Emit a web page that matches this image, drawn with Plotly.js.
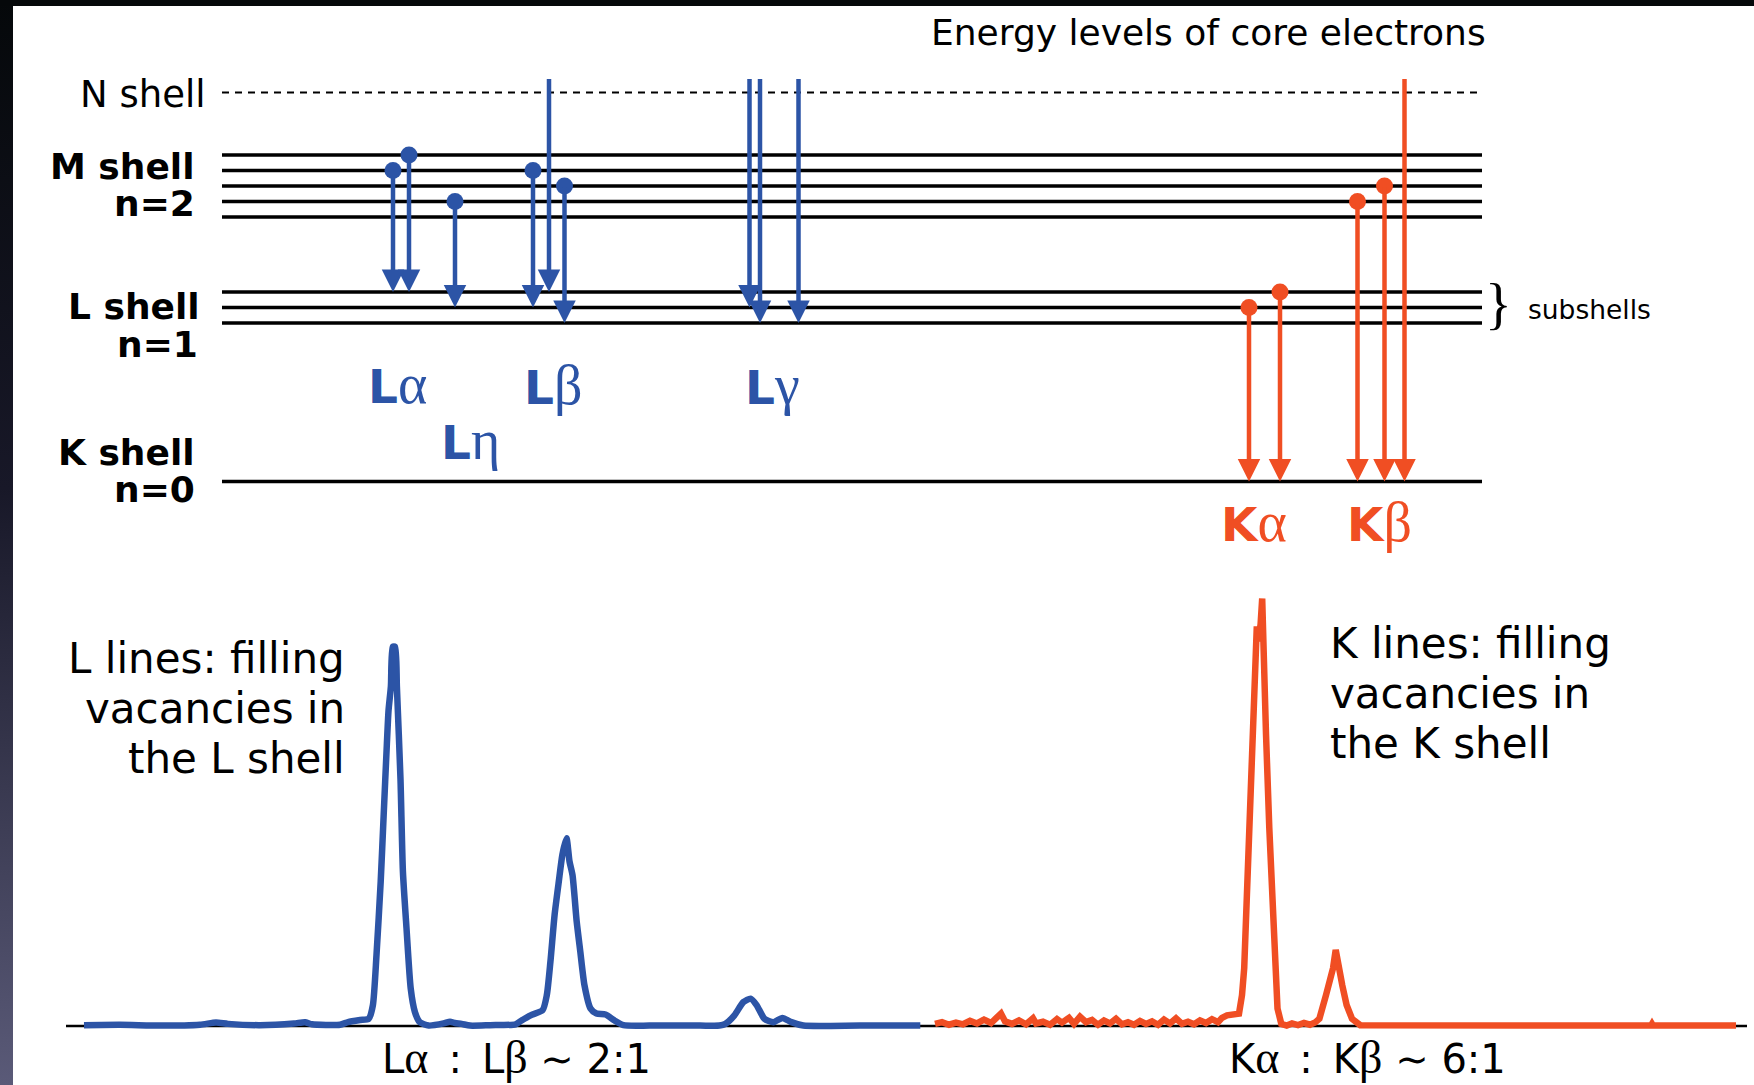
<!DOCTYPE html>
<html><head><meta charset="utf-8">
<script src="https://cdn.plot.ly/plotly-3.0.1.min.js"></script>
<style>
html,body{margin:0;padding:0;}
body{width:1754px;height:1085px;overflow:hidden;
 background:
  linear-gradient(#05080a,#05080a) left top/100% 6px no-repeat,
  linear-gradient(to bottom,#05080a 0%,#181828 45%,#5a5a78 100%) left top/13px 100% no-repeat,
  #ffffff;}
#chart{width:1754px;height:1085px;}
</style></head>
<body><div id="chart"></div>
<script>
// ---------- DATA ----------
// Energy levels (arbitrary energy units, K shell = 0)
const levelNames  = ['K', 'L3', 'L2', 'L1', 'M5', 'M4', 'M3', 'M2', 'M1', 'N'];
const levelEnergy = [0, 10.22, 11.22, 12.22, 17.06, 18.06, 19.06, 20.06, 21.06, 25.09];
const outerStart = 26.06; // transitions coming from beyond the N shell

// Transitions (from -> to) and their slot along the diagram
const lineNames  = ['Lα1','Lα2','Lη','Lβ1','Lβ3','Lβ2','Lγ1','Lγ2','Lγ3','Kα1','Kα2','Kβ1','Kβ3','Kβ2'];
const lineFrom   = ['M2','M1','M4','M2','out','M3','out','out','out','L2','L1','M4','M3','out'];
const lineTo     = ['L1','L1','L2','L2','L1','L3','L2','L3','L3','K','K','K','K','K'];
const lineSeries = ['L','L','L','L','L','L','L','L','L','K','K','K','K','K'];
const lineSlot   = [393,409,455,533,549,564.5,749.5,760,798.5,1249,1280,1357.5,1384.5,1404.5];

// Spectra (channel, relative counts; Kα = 100)
const lChannel = [84,120,160,200,216,228,260,294,305,312,340,348,360,368.7,372.9,376.5,380.7,383.7,386.7,388.5,390.9,392.7,395.1,396.9,400.5,402.9,406.5,410.7,414.9,419.7,428.7,443.6,450,455,461.6,470,490,515.6,521.6,530.6,542.6,546.8,550.4,554.6,558.8,562.4,566.5,569.5,572.5,576.7,580.3,584.5,590.5,596.5,605.5,614.5,623.5,650,700,719.4,725.4,734.4,743.4,750.6,756.6,764.4,773.4,782.4,791.4,803.4,860,920.3];
const lCounts  = [0.2,0.3,0.1,0.3,0.8,0.5,0.2,0.6,0.9,0.4,0.3,0.9,1.4,1.7,4.9,16.6,33.8,49.5,65.1,73.7,79.5,88.7,88.7,79.3,57.7,36.2,22.9,8.8,3.3,0.9,0.1,0.6,1.0,0.7,0.5,0.1,0.2,0.4,1.3,2.5,3.7,7.2,15.0,26.0,33.8,40.1,43.9,38.5,35.3,24.4,17.4,9.5,4.1,2.9,2.7,1.3,0.2,0.1,0.1,0.1,0.5,2.5,5.6,6.4,4.9,1.7,0.9,1.9,0.9,0.1,0.1,0.1];
const kChannel = [935,942,949,956,963,970,977,984,991,998,1001,1005,1012,1019,1026,1033,1036,1043,1050,1057,1062,1069,1074,1080,1086,1092,1098,1104,1110,1116,1122,1128,1134,1140,1146,1152,1158,1164,1170,1176,1182,1188,1194,1200,1206,1212,1218,1222,1227,1239,1242,1244.2,1247,1249.7,1252.9,1255.1,1256.8,1258.4,1260.6,1262.2,1263.8,1266,1269.3,1272,1274.7,1277.5,1281.3,1286.7,1292,1298,1304,1310,1315,1319.4,1326,1330.3,1333,1335.7,1338.4,1342.3,1346.6,1352,1360.2,1450,1550,1651,1652,1653,1736];
const kCounts  = [0.5,0.9,0.3,0.8,0.4,1.2,0.6,1.5,0.7,2.1,2.9,1.1,0.5,1.3,0.4,1.8,0.6,1.0,0.3,1.6,0.8,1.9,0.5,2.2,0.9,1.4,0.3,1.3,0.6,1.7,0.4,0.9,0.3,1.2,0.5,1.1,0.3,1.5,0.6,1.8,0.5,1.0,0.4,1.3,0.7,1.6,0.9,1.9,2.5,2.9,7.2,13.5,30.6,49.5,75.3,84.7,93.5,90.0,94.0,100,80.1,68.3,46.3,30.6,11.1,4.1,0.5,0.1,0.6,0.2,0.7,0.3,0.8,1.7,7.2,11.1,13.5,17.8,13.5,9.5,4.9,1.7,0.2,0.1,0.1,0.1,0.5,0.1,0.1];

// ---------- STYLE / LAYOUT ----------
const W = 1754, H = 1085;
const BLUE = '#2c54a6', ORANGE = '#f04e23';
const SANS = 'DejaVu Sans, Verdana, sans-serif';
const SERIF = 'Liberation Serif';
const seriesColor = {L: BLUE, K: ORANGE};
const levelX0 = 222, levelX1 = 1482;

function E(name){ return name === 'out' ? outerStart : levelEnergy[levelNames.indexOf(name)]; }
function G(s, size){ return '<span style="font-family:' + SERIF + ';font-size:' + size + 'px">' + s + '</span>'; }
function txt(t, x, y, size, opts){
  return Object.assign({text: t, xref: 'paper', yref: 'paper', x: x / W, y: 1 - y / H,
    showarrow: false, xanchor: 'left', yanchor: 'middle',
    font: {family: SANS, size: size, color: '#000'}}, opts || {});
}

const traces = [];
// energy levels
levelNames.forEach((n, i) => {
  traces.push({x: [levelX0, levelX1], y: [levelEnergy[i], levelEnergy[i]], xaxis: 'x', yaxis: 'y',
    mode: 'lines', hoverinfo: 'skip', showlegend: false,
    line: n === 'N' ? {color: '#000', width: 1.8, dash: '7px,6px'} : {color: '#000', width: 3.5}});
});
// start dots of transitions
['L', 'K'].forEach(s => {
  const xs = [], ys = [];
  lineNames.forEach((n, i) => {
    if (lineSeries[i] === s && lineFrom[i] !== 'out') { xs.push(lineSlot[i]); ys.push(E(lineFrom[i])); }
  });
  traces.push({x: xs, y: ys, xaxis: 'x', yaxis: 'y', mode: 'markers', showlegend: false, hoverinfo: 'skip',
    marker: {size: 17, color: seriesColor[s]}});
});
// spectra
traces.push({x: lChannel, y: lCounts, xaxis: 'x2', yaxis: 'y2', mode: 'lines', showlegend: false,
  line: {color: BLUE, width: 6.5, shape: 'spline', smoothing: 0.6}});
traces.push({x: kChannel, y: kCounts, xaxis: 'x2', yaxis: 'y2', mode: 'lines', showlegend: false,
  line: {color: ORANGE, width: 6.5}});

const annotations = [];
// transition arrows
lineNames.forEach((n, i) => {
  annotations.push({xref: 'x', yref: 'y', axref: 'x', ayref: 'y',
    x: lineSlot[i], y: E(lineTo[i]), ax: lineSlot[i], ay: E(lineFrom[i]),
    text: '', showarrow: true, arrowhead: 2, arrowsize: 1.0, arrowwidth: 4.5,
    arrowcolor: seriesColor[lineSeries[i]], standoff: 0, startstandoff: 0});
});
// texts
annotations.push(txt('Energy levels of core electrons', 1488, 32, 36, {xanchor: 'right'}));
annotations.push(txt('N shell', 208, 95, 37, {xanchor: 'right'}));
annotations.push(txt('<b>M shell</b>', 197, 166, 36, {xanchor: 'right'}));
annotations.push(txt('<b>n=2</b>', 197, 204, 36, {xanchor: 'right'}));
annotations.push(txt('<b>L shell</b>', 202, 306, 36, {xanchor: 'right'}));
annotations.push(txt('<b>n=1</b>', 200, 344, 36, {xanchor: 'right'}));
annotations.push(txt('<b>K shell</b>', 197, 452, 36, {xanchor: 'right'}));
annotations.push(txt('<b>n=0</b>', 197, 489, 36, {xanchor: 'right'}));
annotations.push(txt('}', 1498, 304, 56, {xanchor: 'center', font: {family: SERIF, size: 56, color: '#000'}}));
annotations.push(txt('subshells', 1526, 309, 26.5));
const lab = (t, x, y, c) => txt('<b>' + t[0] + '</b>' + G(t[1], 56), x, y, 47, {font: {family: SANS, size: 47, color: c}});
annotations.push(lab('Lα', 366, 384, BLUE));
annotations.push(lab('Lη', 439, 440, BLUE));
annotations.push(lab('Lβ', 522, 385, BLUE));
annotations.push(lab('Lγ', 743, 385, BLUE));
annotations.push(lab('Kα', 1219, 522, ORANGE));
annotations.push(lab('Kβ', 1345, 522, ORANGE));
const lText = ['L lines: filling', 'vacancies in', 'the L shell'];
const kText = ['K lines: filling', 'vacancies in', 'the K shell'];
lText.forEach((t, i) => annotations.push(txt(t, 347, 658 + i * 50.3, 42, {xanchor: 'right'})));
kText.forEach((t, i) => annotations.push(txt(t, 1328, 643 + i * 50, 42)));
const SP = '\u2002';
annotations.push(txt('L' + G('α', 46) + SP + ':' + SP + 'L' + G('β', 46) + ' ∼ 2:1', 380, 1057, 40));
annotations.push(txt('K' + G('α', 46) + SP + ':' + SP + 'K' + G('β', 46) + ' ∼ 6:1', 1227, 1057, 40));

const ax = {visible: false, showgrid: false, zeroline: false, fixedrange: true};
const layout = {
  width: W, height: H, margin: {l: 0, r: 0, t: 0, b: 0},
  paper_bgcolor: 'rgba(0,0,0,0)', plot_bgcolor: 'rgba(0,0,0,0)', showlegend: false,
  xaxis: Object.assign({range: [0, W], domain: [0, 1]}, ax),
  yaxis: Object.assign({range: [-3.942, 31.058], domain: [0.5, 1]}, ax),
  xaxis2: Object.assign({range: [0, W], domain: [0, 1], anchor: 'y2'}, ax),
  yaxis2: Object.assign({range: [-13.80, 113.10], domain: [0, 0.5], anchor: 'x2'}, ax),
  shapes: [{type: 'line', xref: 'x2', yref: 'y2', x0: 66, x1: 1747, y0: 0, y1: 0, layer: 'below',
    line: {color: '#000', width: 2.5}}],
  annotations: annotations
};
Plotly.newPlot('chart', traces, layout, {staticPlot: true, displayModeBar: false});
</script></body></html>
